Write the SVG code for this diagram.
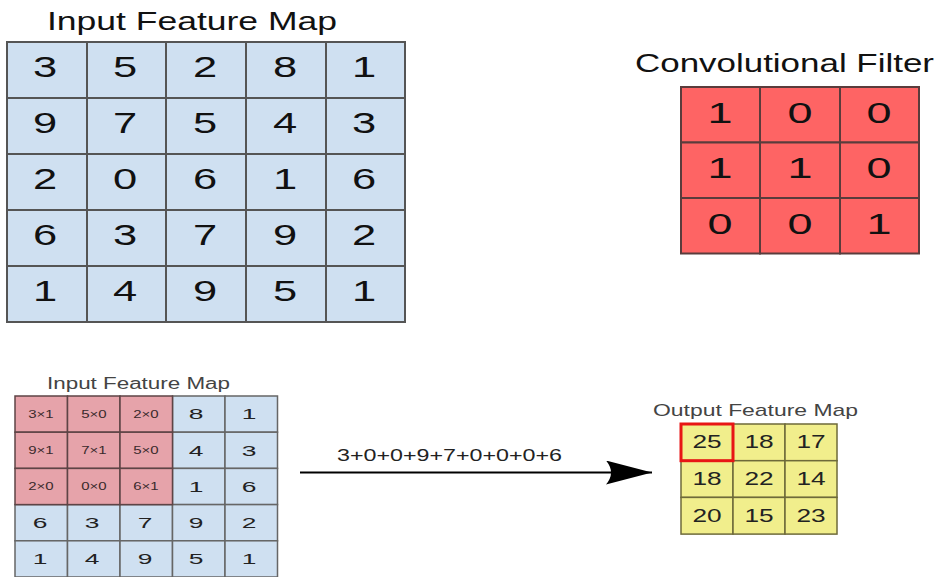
<svg xmlns="http://www.w3.org/2000/svg" width="939" height="577" viewBox="0 0 939 577">
  <style>
    text { font-family: "Liberation Sans", Arial, sans-serif; }
    .wide { transform-box: fill-box; transform-origin: center; transform: scaleX(1.5); text-anchor: middle; }
    .mid .wide { transform: scaleX(1.7); }
    .blue { fill: #cfe0f1; stroke: #555; stroke-width: 2; }
    .red { fill: #fe6464; stroke: #5a3c3c; stroke-width: 2; }
    .blue2 { fill: #cfe0f1; stroke: #666; stroke-width: 1.5; }
    .pink { fill: #e6a3aa; stroke: #5e4446; stroke-width: 1.5; }
    .yel { fill: #f1ee8c; stroke: #6e6a3a; stroke-width: 1.5; }
    .big { font-size: 29px; fill: #111; }
    .fil { font-size: 30px; fill: #111; }
    .mid { font-size: 15.5px; fill: #222; }
    .sm { font-size: 10px; fill: #3a2a2c; }
    .out { font-size: 17.5px; fill: #222; }
    .title { font-size: 25px; fill: #111; }
    .sub { font-size: 16px; fill: #444; }
  </style>
  <defs>
    <marker id="head" markerUnits="userSpaceOnUse" viewBox="0 0 46 24" refX="46" refY="12" markerWidth="46" markerHeight="24" orient="auto">
      <path d="M0,0 L46,12 L0,24 Q10,12 0,0 Z" fill="#000"/>
    </marker>
  </defs>

  <!-- 5x5 input map -->
  <g id="input-map">
    <text class="title" x="47" y="30" textLength="290" lengthAdjust="spacingAndGlyphs">Input Feature Map</text>
    <g>
      <rect class="blue" x="7" y="42" width="80" height="56"/><rect class="blue" x="87" y="42" width="79" height="56"/><rect class="blue" x="166" y="42" width="80" height="56"/><rect class="blue" x="246" y="42" width="80" height="56"/><rect class="blue" x="326" y="42" width="79" height="56"/>
      <rect class="blue" x="7" y="98" width="80" height="56"/><rect class="blue" x="87" y="98" width="79" height="56"/><rect class="blue" x="166" y="98" width="80" height="56"/><rect class="blue" x="246" y="98" width="80" height="56"/><rect class="blue" x="326" y="98" width="79" height="56"/>
      <rect class="blue" x="7" y="154" width="80" height="56"/><rect class="blue" x="87" y="154" width="79" height="56"/><rect class="blue" x="166" y="154" width="80" height="56"/><rect class="blue" x="246" y="154" width="80" height="56"/><rect class="blue" x="326" y="154" width="79" height="56"/>
      <rect class="blue" x="7" y="210" width="80" height="56"/><rect class="blue" x="87" y="210" width="79" height="56"/><rect class="blue" x="166" y="210" width="80" height="56"/><rect class="blue" x="246" y="210" width="80" height="56"/><rect class="blue" x="326" y="210" width="79" height="56"/>
      <rect class="blue" x="7" y="266" width="80" height="56"/><rect class="blue" x="87" y="266" width="79" height="56"/><rect class="blue" x="166" y="266" width="80" height="56"/><rect class="blue" x="246" y="266" width="80" height="56"/><rect class="blue" x="326" y="266" width="79" height="56"/>
    </g>
    <g class="big">
      <text class="wide" x="45" y="77.5">3</text><text class="wide" x="125" y="77.5">5</text><text class="wide" x="205" y="77.5">2</text><text class="wide" x="285" y="77.5">8</text><text class="wide" x="364" y="77.5">1</text>
      <text class="wide" x="45" y="133.5">9</text><text class="wide" x="125" y="133.5">7</text><text class="wide" x="205" y="133.5">5</text><text class="wide" x="285" y="133.5">4</text><text class="wide" x="364" y="133.5">3</text>
      <text class="wide" x="45" y="189.5">2</text><text class="wide" x="125" y="189.5">0</text><text class="wide" x="205" y="189.5">6</text><text class="wide" x="285" y="189.5">1</text><text class="wide" x="364" y="189.5">6</text>
      <text class="wide" x="45" y="245.5">6</text><text class="wide" x="125" y="245.5">3</text><text class="wide" x="205" y="245.5">7</text><text class="wide" x="285" y="245.5">9</text><text class="wide" x="364" y="245.5">2</text>
      <text class="wide" x="45" y="301.5">1</text><text class="wide" x="125" y="301.5">4</text><text class="wide" x="205" y="301.5">9</text><text class="wide" x="285" y="301.5">5</text><text class="wide" x="364" y="301.5">1</text>
    </g>
  </g>

  <!-- 3x3 kernel -->
  <g id="filter">
    <text class="title" x="635" y="72" textLength="299" lengthAdjust="spacingAndGlyphs">Convolutional Filter</text>
    <rect class="red" x="681" y="87" width="79" height="55.5"/><rect class="red" x="760" y="87" width="80" height="55.5"/><rect class="red" x="840" y="87" width="79" height="55.5"/>
    <rect class="red" x="681" y="142.5" width="79" height="55.5"/><rect class="red" x="760" y="142.5" width="80" height="55.5"/><rect class="red" x="840" y="142.5" width="79" height="55.5"/>
    <rect class="red" x="681" y="198" width="79" height="55.5"/><rect class="red" x="760" y="198" width="80" height="55.5"/><rect class="red" x="840" y="198" width="79" height="55.5"/>
    <g class="fil">
      <text class="wide" x="720" y="123">1</text><text class="wide" x="800" y="123">0</text><text class="wide" x="879" y="123">0</text>
      <text class="wide" x="720" y="178.5">1</text><text class="wide" x="800" y="178.5">1</text><text class="wide" x="879" y="178.5">0</text>
      <text class="wide" x="720" y="234">0</text><text class="wide" x="800" y="234">0</text><text class="wide" x="879" y="234">1</text>
    </g>
  </g>

  <!-- input map with the kernel window applied -->
  <g id="input-window">
    <text class="sub" x="47" y="389" textLength="183" lengthAdjust="spacingAndGlyphs">Input Feature Map</text>
    <rect class="blue2" x="172.5" y="396" width="52.5" height="36.2"/><rect class="blue2" x="225" y="396" width="52.5" height="36.2"/>
    <rect class="blue2" x="172.5" y="432.2" width="52.5" height="36.2"/><rect class="blue2" x="225" y="432.2" width="52.5" height="36.2"/>
    <rect class="blue2" x="172.5" y="468.4" width="52.5" height="36.2"/><rect class="blue2" x="225" y="468.4" width="52.5" height="36.2"/>
    <rect class="blue2" x="15" y="504.6" width="52.5" height="36.2"/><rect class="blue2" x="67.5" y="504.6" width="52.5" height="36.2"/><rect class="blue2" x="120" y="504.6" width="52.5" height="36.2"/><rect class="blue2" x="172.5" y="504.6" width="52.5" height="36.2"/><rect class="blue2" x="225" y="504.6" width="52.5" height="36.2"/>
    <rect class="blue2" x="15" y="540.8" width="52.5" height="36.2"/><rect class="blue2" x="67.5" y="540.8" width="52.5" height="36.2"/><rect class="blue2" x="120" y="540.8" width="52.5" height="36.2"/><rect class="blue2" x="172.5" y="540.8" width="52.5" height="36.2"/><rect class="blue2" x="225" y="540.8" width="52.5" height="36.2"/>
    <rect class="pink" x="15" y="396" width="52.5" height="36.2"/><rect class="pink" x="67.5" y="396" width="52.5" height="36.2"/><rect class="pink" x="120" y="396" width="52.5" height="36.2"/>
    <rect class="pink" x="15" y="432.2" width="52.5" height="36.2"/><rect class="pink" x="67.5" y="432.2" width="52.5" height="36.2"/><rect class="pink" x="120" y="432.2" width="52.5" height="36.2"/>
    <rect class="pink" x="15" y="468.4" width="52.5" height="36.2"/><rect class="pink" x="67.5" y="468.4" width="52.5" height="36.2"/><rect class="pink" x="120" y="468.4" width="52.5" height="36.2"/>
    <g class="sm">
      <text class="wide" x="41" y="418">3×1</text><text class="wide" x="94" y="418">5×0</text><text class="wide" x="146" y="418">2×0</text>
      <text class="wide" x="41" y="454">9×1</text><text class="wide" x="94" y="454">7×1</text><text class="wide" x="146" y="454">5×0</text>
      <text class="wide" x="41" y="490">2×0</text><text class="wide" x="94" y="490">0×0</text><text class="wide" x="146" y="490">6×1</text>
    </g>
    <g class="mid">
      <text class="wide" x="196" y="419.5">8</text><text class="wide" x="249" y="419.5">1</text>
      <text class="wide" x="196" y="455.7">4</text><text class="wide" x="249" y="455.7">3</text>
      <text class="wide" x="196" y="491.9">1</text><text class="wide" x="249" y="491.9">6</text>
      <text class="wide" x="40" y="528">6</text><text class="wide" x="92" y="528">3</text><text class="wide" x="145" y="528">7</text><text class="wide" x="196" y="528">9</text><text class="wide" x="249" y="528">2</text>
      <text class="wide" x="40" y="564.5">1</text><text class="wide" x="92" y="564.5">4</text><text class="wide" x="145" y="564.5">9</text><text class="wide" x="196" y="564.5">5</text><text class="wide" x="249" y="564.5">1</text>
    </g>
  </g>

  <!-- 3x3 result -->
  <g id="output-map">
    <text class="sub" x="653" y="415.5" style="font-size:17px" textLength="205" lengthAdjust="spacingAndGlyphs">Output Feature Map</text>
    <rect class="yel" x="681" y="424" width="52" height="36.7"/><rect class="yel" x="733" y="424" width="52" height="36.7"/><rect class="yel" x="785" y="424" width="52" height="36.7"/>
    <rect class="yel" x="681" y="460.7" width="52" height="36.7"/><rect class="yel" x="733" y="460.7" width="52" height="36.7"/><rect class="yel" x="785" y="460.7" width="52" height="36.7"/>
    <rect class="yel" x="681" y="497.4" width="52" height="36.7"/><rect class="yel" x="733" y="497.4" width="52" height="36.7"/><rect class="yel" x="785" y="497.4" width="52" height="36.7"/>
    <rect x="681" y="424" width="52" height="36.7" fill="none" stroke="#e81515" stroke-width="3"/>
    <g class="out">
      <text class="wide" x="707" y="448.5">25</text><text class="wide" x="759" y="448.5">18</text><text class="wide" x="811" y="448.5">17</text>
      <text class="wide" x="707" y="485.2">18</text><text class="wide" x="759" y="485.2">22</text><text class="wide" x="811" y="485.2">14</text>
      <text class="wide" x="707" y="521.9">20</text><text class="wide" x="759" y="521.9">15</text><text class="wide" x="811" y="521.9">23</text>
    </g>
  </g>

  <g id="connectors">
    <line x1="300" y1="472.5" x2="652" y2="472.5" stroke="#000" stroke-width="2" marker-end="url(#head)"/>
    <text x="337" y="461" style="font-size:16px;fill:#222" textLength="225" lengthAdjust="spacingAndGlyphs">3+0+0+9+7+0+0+0+6</text>
  </g>
</svg>
